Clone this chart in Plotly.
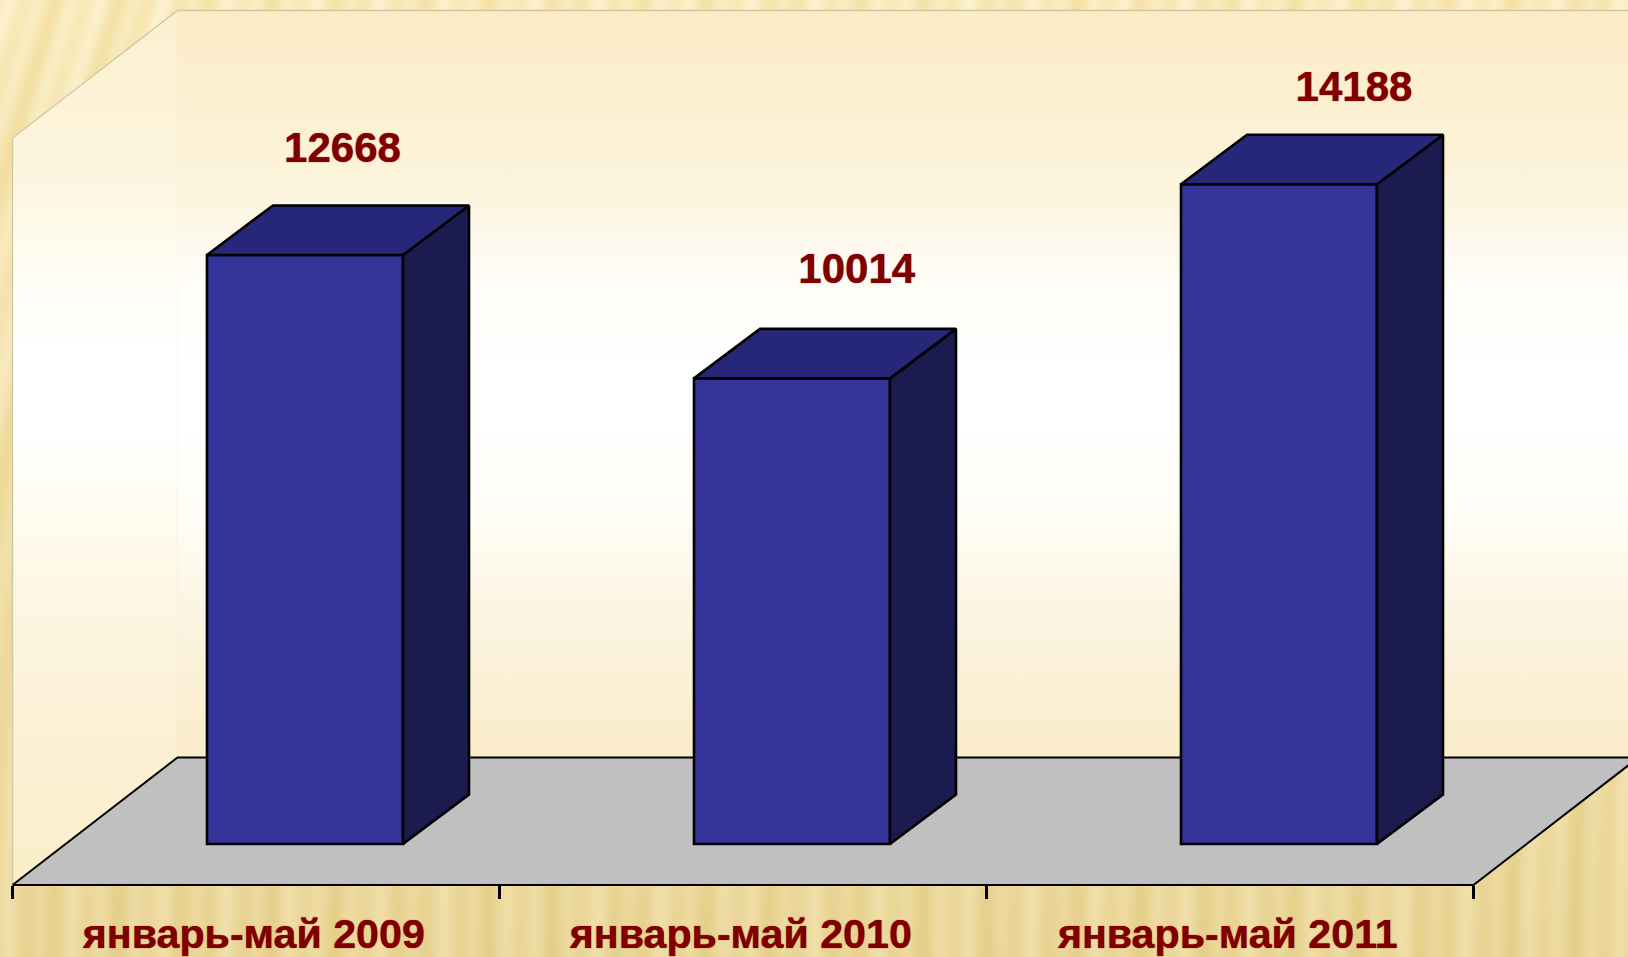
import base64, struct, zlib
import numpy as np
import plotly.graph_objects as go

# ---- data ----
categories = ["январь-май 2009", "январь-май 2010", "январь-май 2011"]
values = [12668, 10014, 14188]
label_shift_x = [0.077, 0.133, 0.154]   # label offset from bar centre, in category widths
label_shift_y = [2214, 2266, 2020]      # label offset above bar top, in value units

# ---- chart frame ----
W, H = 1628, 957
PX_X, X0_PX = 487.0, 12.5     # pixels per category, left position of first category
PX_Y, Y0_PX = 0.0465, 844.0   # pixels per unit, position of value 0
x_range = [-X0_PX / PX_X, (W - X0_PX) / PX_X]
y_range = [(Y0_PX - H) / PX_Y, Y0_PX / PX_Y]

FLOOR_Y = -(885 - Y0_PX) / PX_Y     # value of front floor edge
WALL_TOP = (Y0_PX - 138) / PX_Y     # value of wall top at front
WALL_DX = 165 / PX_X                # full chart depth
WALL_DY = 127.5 / PX_Y
BAR_W = 196 / PX_X
BAR_OFF = 0.6006
BAR_DX = 66 / PX_X                  # bar depth
BAR_DY = 49.5 / PX_Y
N = len(categories)

INK = "#800000"
FONT = "Liberation Sans"
HALO = "0 0 1px #800000"


def background_png():
    w, h = W // 2, H // 2
    yy, xx = np.mgrid[0:h, 0:w].astype(float)
    xx *= 2
    yy *= 2
    u = xx - 0.00017 * (H - yy) ** 2
    s = 0.55 * np.sin(2 * np.pi * u / 31) + 0.45 * np.sin(2 * np.pi * u / 73 + 1.0)
    s = np.clip(s * 0.5 + 0.5, 0, 1)
    t = np.clip((H - yy) / H, 0, 1)[..., None]
    dark0, light0 = np.array([229, 207, 138.0]), np.array([241, 223, 168.0])
    dark1, light1 = np.array([245, 226, 165.0]), np.array([253, 243, 208.0])
    dark = dark0 * (1 - t) + dark1 * t
    light = light0 * (1 - t) + light1 * t
    img = (dark * (1 - s[..., None]) + light * s[..., None]).astype(np.uint8)
    raw = b"".join(b"\x00" + img[r].tobytes() for r in range(h))

    def chunk(tag, data):
        return struct.pack(">I", len(data)) + tag + data + struct.pack(">I", zlib.crc32(tag + data))

    png = (b"\x89PNG\r\n\x1a\n" + chunk(b"IHDR", struct.pack(">IIBBBBB", w, h, 8, 2, 0, 0, 0))
           + chunk(b"IDAT", zlib.compress(raw, 9)) + chunk(b"IEND", b""))
    return "data:image/png;base64," + base64.b64encode(png).decode()


fig = go.Figure()


def poly(xs, ys, fill=None, line=None, width=2.6, axes=("x", "y"), grad=None):
    kw = dict(x=xs, y=ys, mode="lines", hoverinfo="skip", showlegend=False,
              xaxis=axes[0], yaxis=axes[1])
    if grad is not None:
        kw.update(fill="toself", fillgradient=dict(type="vertical", colorscale=grad))
    elif fill is not None:
        kw.update(fill="toself", fillcolor=fill)
    kw["line"] = dict(color=line or "rgba(0,0,0,0)", width=width)
    fig.add_trace(go.Scatter(**kw))


# walls (gradient stops run from the bottom of each wall to its top)
back_low, back_top = FLOOR_Y + WALL_DY, WALL_TOP + WALL_DY
back_grad = [[0, "#faecc9"], [0.12, "#fbf1d9"], [0.22, "#fcf6e6"], [0.32, "#fffdf5"],
             [0.45, "#ffffff"], [0.51, "#ffffff"], [0.61, "#fffefa"], [0.675, "#fefaf2"],
             [0.74, "#fcf5e0"], [0.805, "#fbf2d8"], [1, "#fbecc6"]]
left_grad = [[0, "#fbeec8"], [0.15, "#fbf0d4"], [0.28, "#fdf4de"], [0.42, "#fffbef"],
             [0.515, "#ffffff"], [0.615, "#ffffff"], [0.71, "#fffcf2"], [0.81, "#fdf5df"],
             [1, "#fbf0d0"]]
poly([0, WALL_DX, WALL_DX, 0, 0], [FLOOR_Y, back_low, back_top, WALL_TOP, FLOOR_Y], grad=left_grad)
poly([WALL_DX, N + WALL_DX, N + WALL_DX, WALL_DX, WALL_DX],
     [back_low, back_low, back_top, back_top, back_low], grad=back_grad)
poly([0, 0, WALL_DX, N + WALL_DX], [FLOOR_Y, WALL_TOP, back_top, back_top], line="#cfc6a4", width=1.3)

# floor
poly([0, N, N + WALL_DX, WALL_DX, 0], [FLOOR_Y, FLOOR_Y, back_low, back_low, FLOOR_Y],
     fill="#c0c0c0", line="#000000", width=2)

# bars, on overlaid axes so they sit above the floor
centers = [i + BAR_OFF for i in range(N)]
fig.add_trace(go.Bar(x=centers, y=values, width=BAR_W, marker=dict(color="#333399",
                     line=dict(color="#000000", width=2.6)), hoverinfo="skip", showlegend=False,
                     xaxis="x2", yaxis="y2"))
for c, v in zip(centers, values):
    xl, xr = c - BAR_W / 2, c + BAR_W / 2
    poly([xr, xr + BAR_DX, xr + BAR_DX, xr, xr], [0, BAR_DY, v + BAR_DY, v, 0],
         fill="#1b1b4f", line="#000000", axes=("x2", "y2"))
    poly([xl, xl + BAR_DX, xr + BAR_DX, xr, xl], [v, v + BAR_DY, v + BAR_DY, v, v],
         fill="#27277a", line="#000000", axes=("x2", "y2"))

fig.add_trace(go.Scatter(
    x=[c + d for c, d in zip(centers, label_shift_x)],
    y=[v + d for v, d in zip(values, label_shift_y)],
    text=[str(v) for v in values], mode="text", textposition="middle center",
    textfont=dict(family=FONT, size=42, color=INK, weight="bold", shadow=HALO),
    hoverinfo="skip", showlegend=False, xaxis="x2", yaxis="y2"))

fig.update_layout(
    width=W, height=H, margin=dict(l=0, r=0, t=0, b=0), autosize=False,
    paper_bgcolor="#efdca0", plot_bgcolor="rgba(0,0,0,0)", barmode="overlay",
    images=[dict(source=background_png(), xref="paper", yref="paper", x=0, y=1, sizex=1, sizey=1,
                 sizing="stretch", layer="below")],
    xaxis=dict(range=x_range, domain=[0, 1], anchor="free", position=(H - 885) / H, showgrid=False,
               automargin=False, zeroline=False, showline=False, ticks="", tickmode="array",
               tickvals=[i + 0.4955 for i in range(N)], ticktext=categories, ticklabelstandoff=21,
               tickfont=dict(family=FONT, size=41.2, color=INK, weight="bold", shadow=HALO),
               minor=dict(ticks="outside", ticklen=13, tickwidth=2.5, tickcolor="#000000",
                          tickmode="array", tickvals=list(range(N + 1)), showgrid=False)),
    yaxis=dict(range=y_range, domain=[0, 1], visible=False, automargin=False),
    xaxis2=dict(range=x_range, overlaying="x", anchor="y2", visible=False, automargin=False),
    yaxis2=dict(range=y_range, overlaying="y", anchor="x2", visible=False, automargin=False),
)

fig.write_html("out.html", config=dict(displayModeBar=False),
               post_script="document.body.style.margin='0';document.body.style.overflow='hidden';")
